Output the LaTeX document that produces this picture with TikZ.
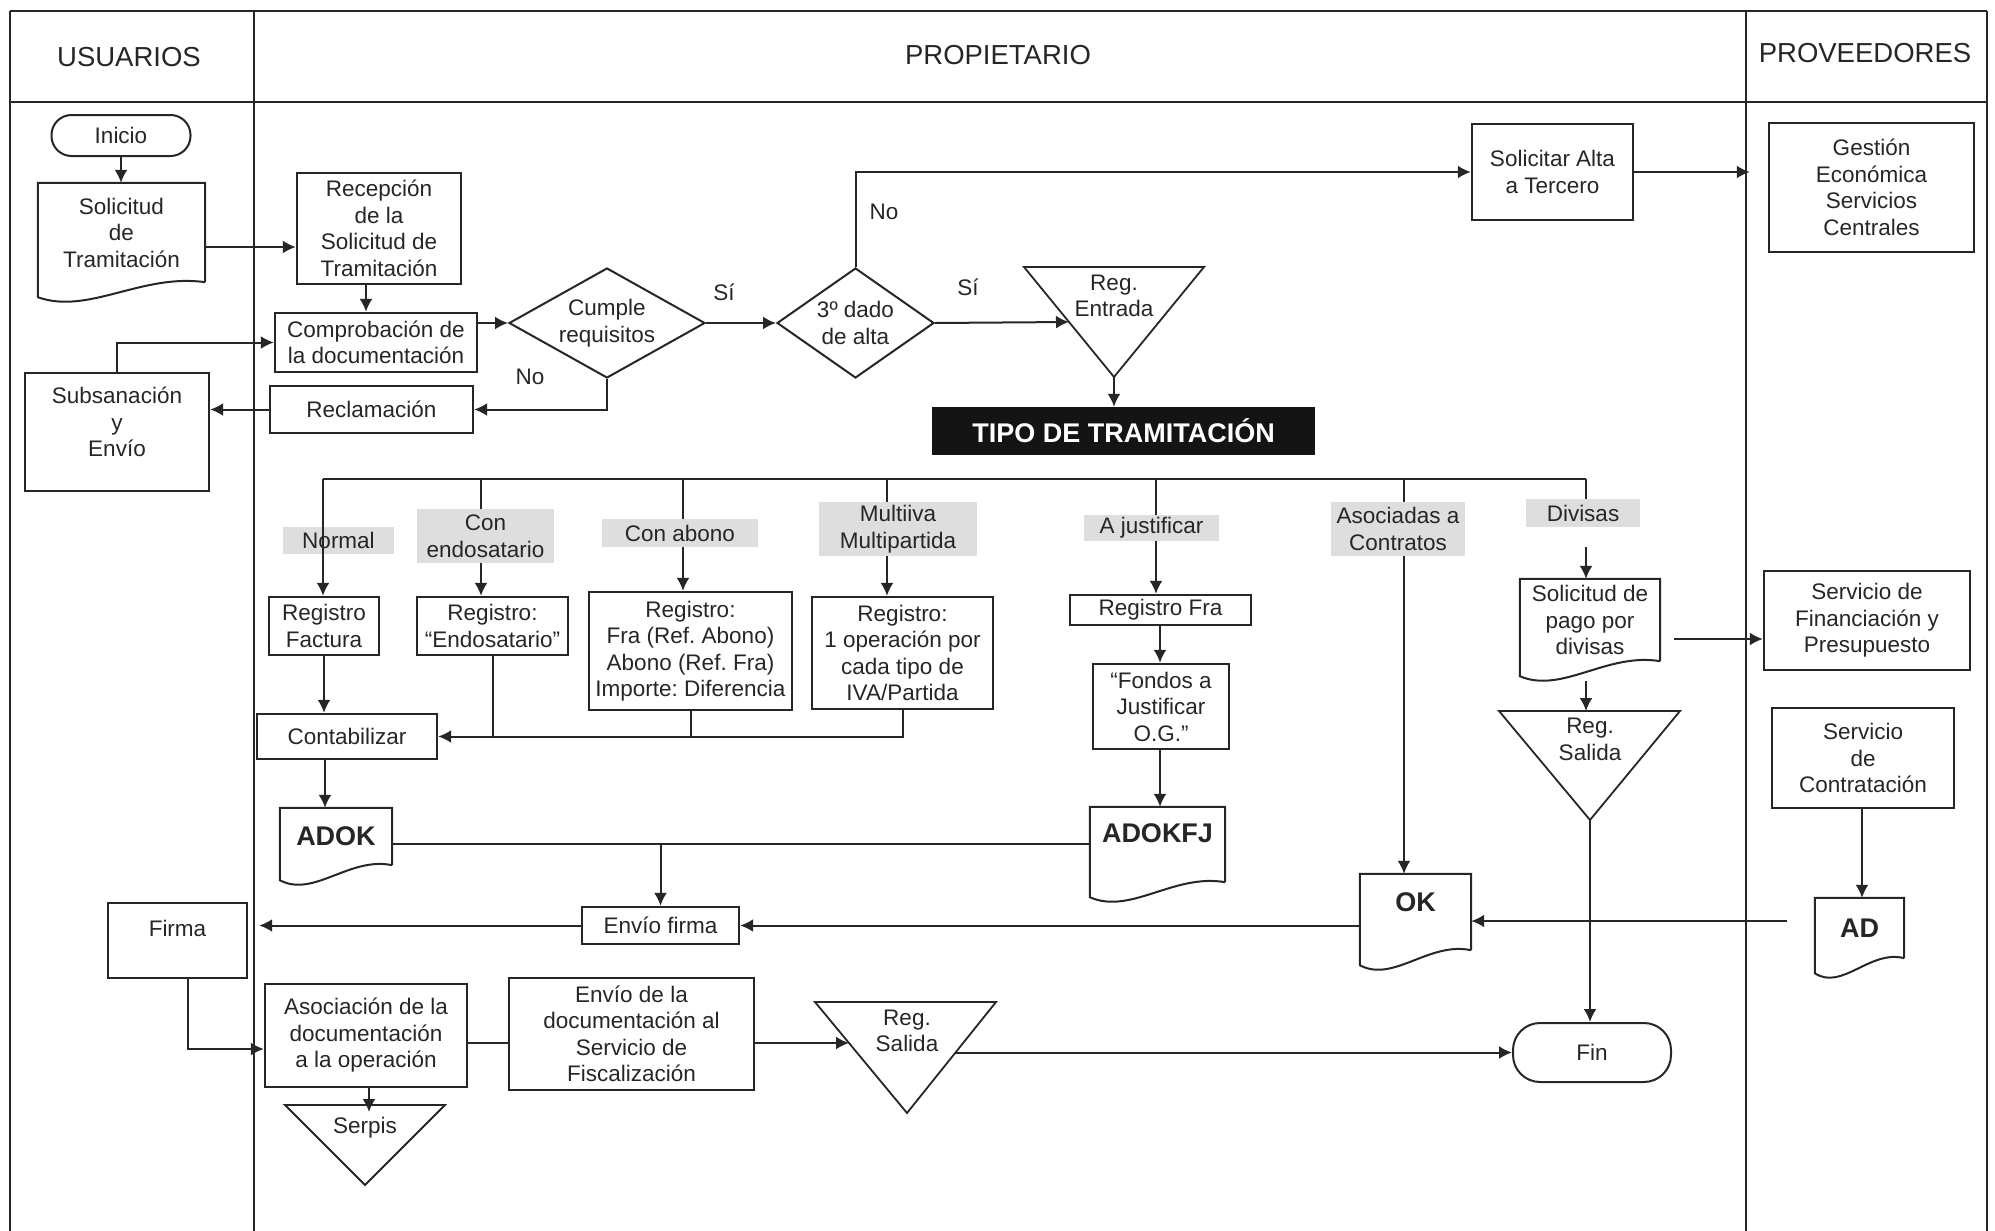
\documentclass[tikz,border=0pt]{standalone}
\usepackage{fontspec}
\setmainfont{Liberation Sans}
\usetikzlibrary{arrows.meta,calc,shapes.geometric}
\definecolor{ink}{gray}{0.15}
\definecolor{labfill}{gray}{0.87}
\newcommand\docwave[1]{%
  \draw[docline] (#1.south east) -- (#1.north east) -- (#1.north west) -- ($(#1.south west)+(0,15)$)
    .. controls ($(#1.south west)!0.3!(#1.south east)+(0,33)$) and ($(#1.south west)!0.62!(#1.south east)+(0,-9)$) .. (#1.south east);}
\begin{document}
\frenchspacing
\begin{tikzpicture}[x=1pt,y=-1pt,
  txt/.style={font=\fontsize{22.5}{26.5}\selectfont, align=center, inner sep=0pt, text=ink},
  hdr/.style={font=\fontsize{27.5}{32}\selectfont, inner sep=0pt, text=ink},
  wh/.style 2 args={minimum width=#1pt, minimum height=#2pt},
  box/.style={txt, draw=ink, line width=2.4pt, rectangle},
  term/.style={txt, draw=ink, line width=2pt, rectangle},
  doc/.style={txt, rectangle},
  bold/.style={font=\fontsize{27}{32}\selectfont\bfseries},
  docline/.style={draw=ink, line width=2pt},
  lab/.style={txt, fill=labfill, rectangle},
  dia/.style={draw=ink, line width=2pt, diamond, inner sep=0pt},
  tri/.style={draw=ink, line width=1.8pt, line join=miter},
  lane/.style={draw=ink, line width=2pt},
  conn/.style={draw=ink, line width=2pt},
  arr/.style={draw=ink, line width=2pt, -{Latex[length=13pt,width=13pt]}}]
\useasboundingbox (0,0) rectangle (1995,1231);

% lanes
\draw[lane] (10,11) -- (1987,11);
\draw[lane] (10,102) -- (1987,102);
\draw[lane] (10,11) -- (10,1231);
\draw[lane] (254,11) -- (254,1231);
\draw[lane] (1746,11) -- (1746,1231);
\draw[lane] (1987,11) -- (1987,1231);
\node[hdr] (husu) at (129,57) {USUARIOS};
\node[hdr] (hpro) at (998,55) {PROPIETARIO};
\node[hdr] (hprv) at (1865,53) {PROVEEDORES};

% USUARIOS
\node[term, rounded corners=20pt, wh={139}{41}] (ini) at (121,135.5) {Inicio};
\node[doc, wh={167}{99}] (sol) at (121.5,232.5) {Solicitud\\de\\Tramitación};
\docwave{sol}
\node[box, wh={184}{118}] (sub) at (117,432) {\raisebox{7pt}[\height][\depth]{\begin{tabular}{@{}c@{}}Subsanación\\y\\Envío\end{tabular}}};
\node[box, wh={139}{75}] (firma) at (177.5,940.5) {\raisebox{12pt}[\height][\depth]{Firma}};

% PROPIETARIO top
\node[box, wh={164}{111}] (rec) at (379,228.5) {Recepción\\de la\\Solicitud de\\Tramitación};
\node[box, wh={202}{59}] (comp) at (376,342.5) {Comprobación de\\la documentación};
\node[dia, wh={196}{110}, label={[txt]center:Cumple\\requisitos}] (cumple) at (607,323) {};
\node[box, wh={203}{47}] (reclam) at (371.5,409.5) {Reclamación};
\node[dia, wh={157}{110}, label={[txt]center:3º dado\\de alta}] (tres) at (855.5,323) {};
\node[box, wh={161}{96}] (solalta) at (1552.5,172) {Solicitar Alta\\a Tercero};
\node[txt] (no1) at (530,377) {No};
\node[txt] (si1) at (724,292) {Sí};
\node[txt] (no2) at (884,212) {No};
\node[txt] (si2) at (968,287) {Sí};

\draw[tri] (1024,267) -- (1204,267) -- (1114,377) -- cycle;
\node[txt] (regE) at (1114,296) {Reg.\\Entrada};
\coordinate (regEleft) at (1069,322);
\coordinate (regEapex) at (1114,377);

\node[rectangle, fill=black!92, wh={383}{48}, inner sep=0pt, text=white,
  font=\fontsize{27}{32}\selectfont\bfseries] (tipo) at (1123.5,431) {TIPO DE TRAMITACIÓN};

% PROVEEDORES
\node[box, wh={205}{129}] (gestion) at (1871.5,187.5) {Gestión\\Económica\\Servicios\\Centrales};
\node[box, wh={206}{99}] (servfin) at (1867,620.5) {Servicio de\\Financiación y\\Presupuesto};
\node[box, wh={182}{100}] (servcon) at (1863,758) {Servicio\\de\\Contratación};
\node[doc, bold, wh={89}{60}] (ad) at (1859.5,928) {AD};
\docwave{ad}

% type labels
\node[lab, wh={111}{27}] (lnormal) at (338.5,540.5) {Normal};
\node[lab, wh={137}{54}] (lendo) at (485.5,536) {Con\\endosatario};
\node[lab, wh={156}{28}] (labono) at (680,533) {Con abono};
\node[lab, wh={158}{54}] (lmulti) at (898,529) {Multiiva\\Multipartida};
\node[lab, wh={135}{26}] (ljust) at (1151.5,528) {A justificar};
\node[lab, wh={134}{54}] (lasoc) at (1398,529) {Asociadas a\\Contratos};
\node[lab, wh={114}{28}] (ldiv) at (1583,513) {Divisas};

% registro boxes
\node[box, wh={110}{58}] (regfac) at (324,626) {Registro\\Factura};
\node[box, wh={151}{58}] (regendo) at (492.5,626) {Registro:\\“Endosatario”};
\node[box, wh={203}{118}] (regabono) at (690.5,651) {Registro:\\Fra (Ref. Abono)\\Abono (Ref. Fra)\\Importe: Diferencia};
\node[box, wh={181}{112}] (regmulti) at (902.5,653) {Registro:\\1 operación por\\cada tipo de\\IVA/Partida};
\node[box, wh={180}{45}] (contab) at (347,736.5) {Contabilizar};
\node[doc, bold, wh={112}{57}] (adok) at (336,836.5) {ADOK};
\docwave{adok}
\node[box, wh={181}{30}] (regfra) at (1160.5,610) {Registro Fra};
\node[box, wh={136}{85}] (fondos) at (1161,706.5) {“Fondos a\\Justificar\\O.G.”};
\node[doc, bold, wh={135}{75}] (adokfj) at (1157.5,844.5) {\raisebox{11pt}[\height][\depth]{ADOKFJ}};
\docwave{adokfj}
\node[doc, bold, wh={111}{76}] (ok) at (1415.5,912) {\raisebox{10pt}[\height][\depth]{OK}};
\docwave{ok}
\node[doc, wh={140}{82}] (solpago) at (1590,620) {Solicitud de\\pago por\\divisas};
\docwave{solpago}
\draw[tri] (1499,711) -- (1680,711) -- (1590,820) -- cycle;
\node[txt] (regS1) at (1590,739.5) {Reg.\\Salida};
\coordinate (regS1top) at (1586,711);
\coordinate (regS1apex) at (1590,820);

% bottom row
\node[box, wh={157}{37}] (envfirma) at (660.5,925.5) {Envío firma};
\node[box, wh={202}{103}] (asoc) at (366,1035.5) {Asociación de la\\documentación\\a la operación};
\node[box, wh={245}{112}] (envdoc) at (631.5,1034) {Envío de la\\documentación al\\Servicio de\\Fiscalización};
\draw[tri] (815,1002) -- (996,1002) -- (907,1113) -- cycle;
\node[txt] (regS2) at (907,1031) {Reg.\\Salida};
\coordinate (regS2left) at (849,1043);
\coordinate (regS2right) at (955,1052.5);
\draw[tri] (285,1105) -- (445,1105) -- (365,1185) -- cycle;
\node[txt] (serpis) at (365,1128) {Serpis};
\coordinate (serpistop) at (369,1112);
\node[term, rounded corners=27pt, wh={158}{59}] (fin) at (1592,1052.5) {Fin};

% connectors
\draw[arr] (ini.south) -- (ini.south |- sol.north);
\draw[arr] (sol.east |- 0,247) -- (rec.west |- 0,247);
\draw[arr] (rec.south -| 366,0) -- (comp.north -| 366,0);
\draw[arr] (comp.east |- cumple.west) -- (cumple.west);
\draw[arr] (sub.north) |- (comp.west);
\draw[arr] (cumple.south) |- (reclam.east);
\draw[arr] (reclam.west) -- (sub.east |- reclam.west);
\draw[arr] (cumple.east) -- (tres.west);
\draw[arr] (tres.north) |- (solalta.west);
\draw[arr, shorten >=18pt] (solalta.east) -- (gestion.west |- solalta.east);
\draw[arr] (tres.east) -- (regEleft);
\draw[arr] (regEapex) -- (tipo.north -| regEapex);

\coordinate (busL) at (323,479);
\coordinate (busR) at (1586,479);
\coordinate (bEndo) at (481,479);
\coordinate (bAbono) at (683,479);
\coordinate (bMulti) at (887,479);
\coordinate (bJust) at (1156,479);
\coordinate (bAsoc) at (1404,479);
\coordinate (divgap) at (1586,547);
\draw[conn] (busL) -- (busR);
\draw[arr] (busL) -- (busL |- regfac.north);
\draw[conn] (bEndo) -- (bEndo |- lendo.north);
\draw[arr] (bEndo |- lendo.south) -- (bEndo |- regendo.north);
\draw[conn] (bAbono) -- (bAbono |- labono.north);
\draw[arr] (bAbono |- labono.south) -- (bAbono |- regabono.north);
\draw[conn] (bMulti) -- (bMulti |- lmulti.north);
\draw[arr] (bMulti |- lmulti.south) -- (bMulti |- regmulti.north);
\draw[conn] (bJust) -- (bJust |- ljust.north);
\draw[arr] (bJust |- ljust.south) -- (bJust |- regfra.north);
\draw[conn] (bAsoc) -- (bAsoc |- lasoc.north);
\draw[arr] (bAsoc |- lasoc.south) -- (bAsoc |- ok.north);
\draw[conn] (busR) -- (busR |- ldiv.north);
\draw[arr] (divgap) -- (divgap |- solpago.north);

\draw[arr] (regfac.south) -- (regfac.south |- contab.north);
\draw[arr] (regmulti.south) |- (contab.east);
\draw[conn] (regendo.south) -- (regendo.south |- contab.east);
\draw[conn] (regabono.south) -- (regabono.south |- contab.east);
\draw[arr] (contab.south -| 325,0) -- (adok.north -| 325,0);
\draw[arr] (adok.east |- 0,844) -| (envfirma.north);
\draw[conn] (adokfj.west |- 0,844) -- (envfirma.north |- 0,844);
\draw[arr] (regfra.south -| 1160,0) -- (fondos.north -| 1160,0);
\draw[arr] (fondos.south -| 1160,0) -- (adokfj.north -| 1160,0);
\draw[arr] (ok.west |- envfirma.east) -- (envfirma.east);
\draw[arr, shorten <=28pt] (ad.west |- 0,921) -- (ok.east |- 0,921);
\draw[arr] (servcon.south -| 1862,0) -- (ad.north -| 1862,0);
\draw[arr, shorten <=14pt] (solpago.east |- 0,639) -- (servfin.west |- 0,639);
\draw[arr] ($(solpago.south)+(-4,20)$) -- (regS1top);
\draw[arr] (regS1apex) -- (regS1apex |- fin.north);
\draw[arr, shorten >=11pt] (envfirma.west) -- (firma.east |- envfirma.west);
\draw[arr] (firma.south -| 188,0) |- (asoc.west |- 0,1049);
\draw[conn] (asoc.east |- 0,1043) -- (envdoc.west |- 0,1043);
\draw[arr] (envdoc.east |- regS2left) -- (regS2left);
\draw[arr] (regS2right) -- (fin.west);
\draw[arr] (asoc.south -| serpistop) -- (serpistop);
\end{tikzpicture}
\end{document}
